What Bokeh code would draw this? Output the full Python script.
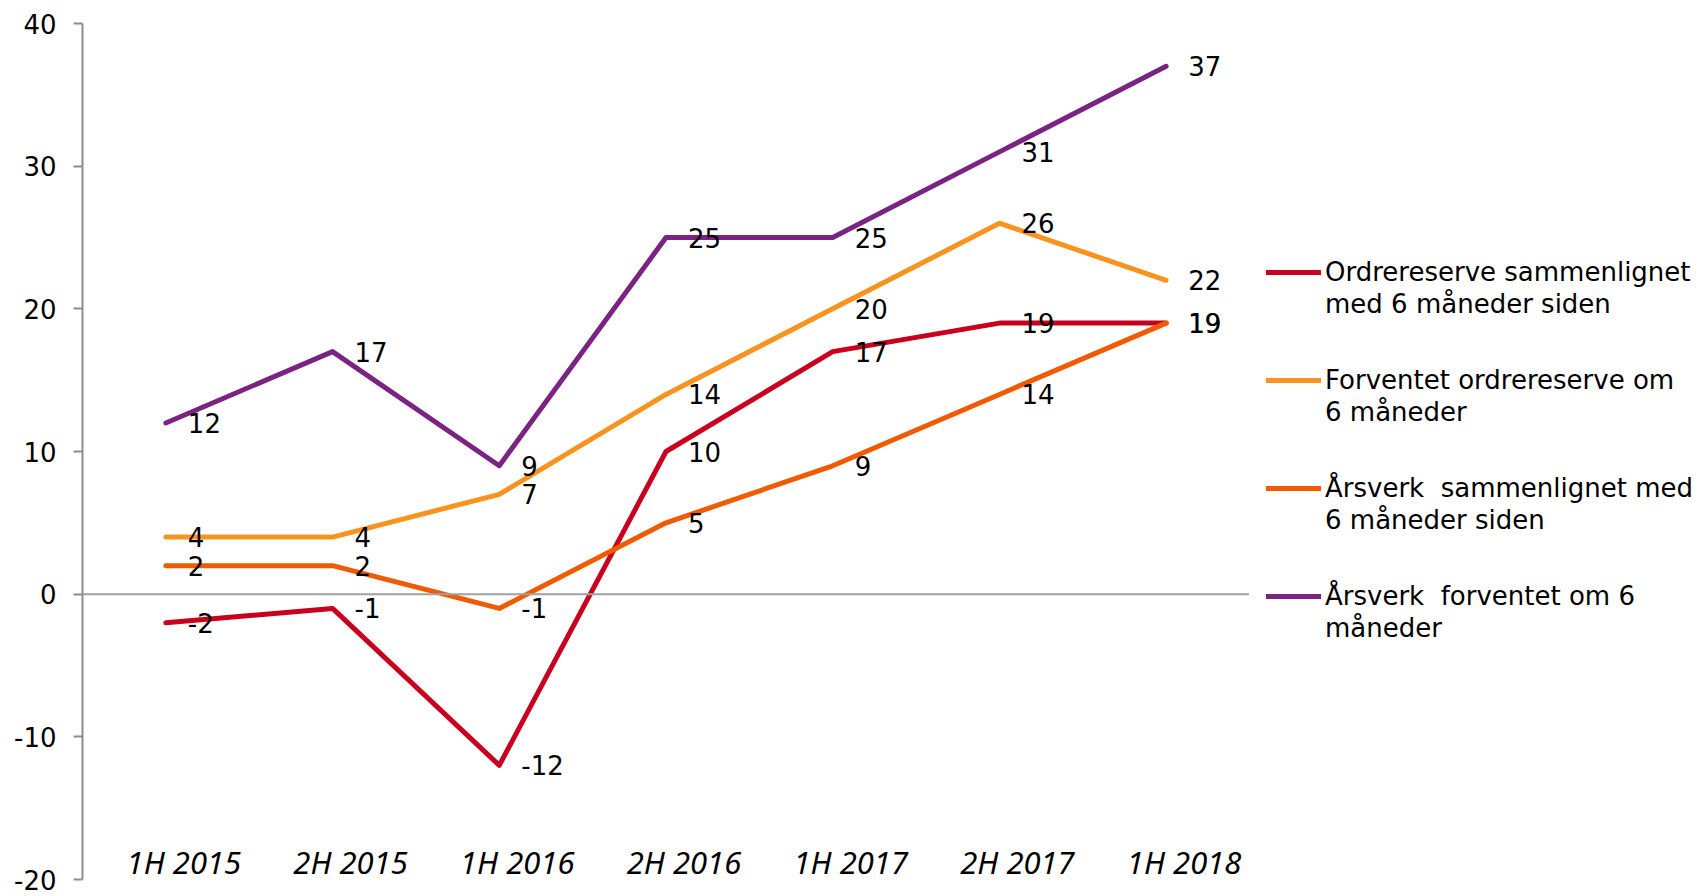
from bokeh.plotting import figure
from bokeh.layouts import row
from bokeh.models import (FactorRange, Range1d, FixedTicker, Span, Legend, LegendItem,
                          ColumnDataSource, PrintfTickFormatter)
from bokeh.core.properties import value
from bokeh.embed import file_html
from bokeh.resources import INLINE

categories = ["1H 2015", "2H 2015", "1H 2016", "2H 2016", "1H 2017", "2H 2017", "1H 2018"]
ordrereserve = [-2, -1, -12, 10, 17, 19, 19]
forventet_ordre = [4, 4, 7, 14, 20, 26, 22]
arsverk_samm = [2, 2, -1, 5, 9, 14, 19]
arsverk_forv = [12, 17, 9, 25, 25, 31, 37]
y_ticks = [-20, -10, 0, 10, 20, 30, 40]

series_first_lines = [
    "Ordrereserve sammenlignet",
    "Forventet ordrereserve om",
    "Årsverk  sammenlignet med",
    "Årsverk  forventet om 6",
]
series_second_lines = [
    "med 6 måneder siden",
    "6 måneder",
    "6 måneder siden",
    "måneder",
]
series_values = [ordrereserve, forventet_ordre, arsverk_samm, arsverk_forv]
colors = ["#C8001E", "#F7931E", "#F05A00", "#7B2382"]

FONT = "DejaVu Sans"

# ---- main chart ----
p = figure(width=1249, height=896, x_range=FactorRange(*categories, range_padding=0),
           y_range=Range1d(-20, 40), output_backend="svg", toolbar_location=None,
           min_border_left=82, min_border_right=0, min_border_top=23, min_border_bottom=17)
p.outline_line_color = None
p.xgrid.visible = False
p.ygrid.visible = False
p.xaxis.visible = False

ya = p.yaxis[0]
ya.ticker = FixedTicker(ticks=y_ticks)
ya.formatter = PrintfTickFormatter(format="%d")
ya.axis_line_color = "#8C8C8C"
ya.axis_line_width = 2
ya.major_tick_line_color = "#8C8C8C"
ya.major_tick_line_width = 2
ya.major_tick_out = 9
ya.major_tick_in = 0
ya.minor_tick_line_color = None
ya.major_label_text_font = FONT
ya.major_label_text_font_size = "26px"
ya.major_label_text_color = "black"
ya.major_label_standoff = 17

p.add_layout(Span(location=0, dimension="width", line_color="#A0A0A0", line_width=2))

for vals, col in zip(series_values, colors):
    p.line(categories, vals, line_color=col, line_width=5, line_cap="round", line_join="round")

for vals in series_values:
    src = ColumnDataSource(dict(x=categories, y=vals, t=[str(v) for v in vals]))
    p.text(x="x", y="y", text="t", source=src, x_offset=22, text_align="left",
           text_baseline="middle", text_font=value(FONT), text_font_size="26px",
           text_color="black")

p.text(x=categories, y=[-20] * len(categories), text=categories, x_offset=18, y_offset=-18,
       text_align="center", text_baseline="middle", text_font=value("Noto Sans"),
       text_font_style="italic", text_font_size="31px", text_color="black")

# ---- legend panel ----
lg = figure(width=457, height=896, x_range=Range1d(0, 1), y_range=Range1d(0, 1),
            x_axis_type=None, y_axis_type=None, output_backend="svg", toolbar_location=None,
            min_border_left=0, min_border_right=0, min_border_top=0, min_border_bottom=0)
lg.outline_line_color = None

# off-screen stand-in renderers that only supply the legend glyph styles
vis = [lg.line([-10, -9], [-10, -9], line_color=c, line_width=5, line_cap="round") for c in colors]
hid = [lg.line([-10, -9], [-10, -9], line_color=c, line_alpha=0) for c in colors]

common = dict(orientation="vertical", glyph_width=55, glyph_height=20, label_standoff=4,
              spacing=78, padding=0, margin=0, border_line_color=None,
              background_fill_alpha=0, label_text_font=FONT,
              label_text_font_size="26px", label_text_color="black")
leg1 = Legend(items=[LegendItem(label=t, renderers=[r]) for t, r in zip(series_first_lines, vis)],
              location=(17, 268), **common)
leg2 = Legend(items=[LegendItem(label=t, renderers=[r]) for t, r in zip(series_second_lines, hid)],
              location=(17, 236), **common)
lg.add_layout(leg1, "center")
lg.add_layout(leg2, "center")

layout = row(p, lg)
open("out.html", "w").write(file_html(layout, INLINE))
